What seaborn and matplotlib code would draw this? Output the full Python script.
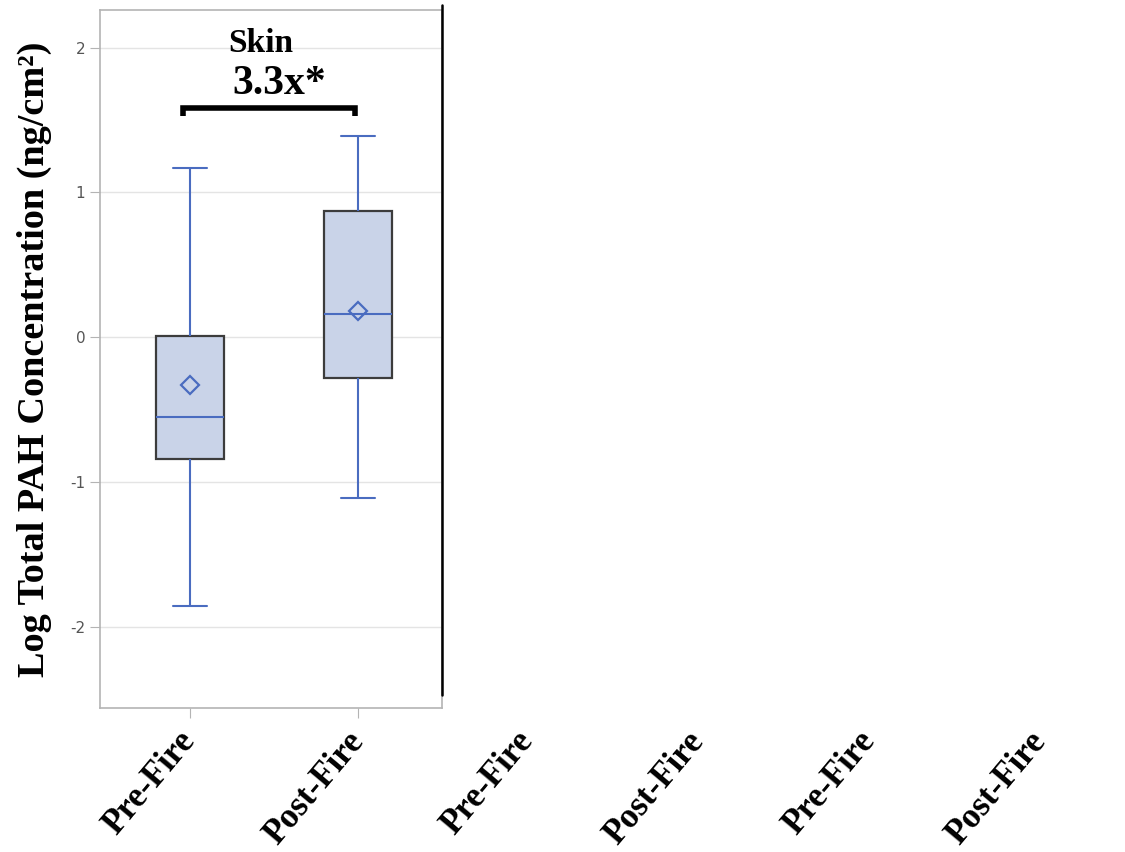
import pandas as pd
import matplotlib.pyplot as plt
import matplotlib.lines as mlines
import seaborn as sns

# valores (log da concentracao total de PAH na pele)
groups = ['Pre-Fire', 'Post-Fire']
whisker_low = [-1.855, -1.11]
q1 = [-0.84, -0.28]
median = [-0.55, 0.16]
q3 = [0.01, 0.87]
whisker_high = [1.17, 1.39]
means = [-0.33, 0.18]

panel_labels = ['Pre-Fire', 'Post-Fire']
y_ticks = [-2, -1, 0, 1, 2]

# tabela longa com os cinco numeros de cada grupo
rows = []
for i, g in enumerate(groups):
    for v in [whisker_low[i], q1[i], median[i], q3[i], whisker_high[i]]:
        rows.append({'group': g, 'value': v})
df = pd.DataFrame(rows)

sns.set_style('white')
plt.rcParams['axes.unicode_minus'] = False
plt.rcParams['text.color'] = 'black'
plt.rcParams['axes.labelcolor'] = 'black'

blue = '#4a6cc0'
fill = '#c9d3e8'
edge = '#3c3c3c'
serif = ['Liberation Serif', 'DejaVu Serif']

fig = plt.figure(figsize=(11.25, 8.52), dpi=100)
W, H = 1125, 852
ax = fig.add_axes([100 / W, 1 - 708 / H, 342 / W, 698 / H])

sns.boxplot(data=df, x='group', y='value', order=groups, whis=(0, 100),
            width=0.4, color=fill, linewidth=1.5, ax=ax,
            boxprops=dict(facecolor=fill, edgecolor=edge, linewidth=1.6),
            whiskerprops=dict(color=blue, linewidth=1.5),
            capprops=dict(color=blue, linewidth=1.5),
            medianprops=dict(color=blue, linewidth=1.5),
            showfliers=False)

sns.pointplot(x=groups, y=means, order=groups, linestyle='none', marker='D',
              markersize=9, markerfacecolor='none', markeredgecolor=blue,
              markeredgewidth=1.6, color=blue, errorbar=None, ax=ax)

ax.set_xlim(-0.536, 1.5)
ax.set_ylim(-2.56, 2.26)
ax.set_yticks(y_ticks)
ax.set_yticklabels([str(t) for t in y_ticks], fontsize=11, color='#555555')
ax.grid(axis='y', color='#e4e4e4', linewidth=1)
ax.set_axisbelow(True)
for s in ax.spines.values():
    s.set_color('#b4b4b4')
    s.set_linewidth(1.2)
ax.tick_params(axis='both', length=7, color='#b4b4b4', direction='out', left=True, bottom=True)
ax.tick_params(axis='x', pad=13)
ax.set_xlabel('')
ax.set_ylabel('Log Total PAH Concentration (ng/cm²)', family=serif,
              fontweight='bold', fontsize=27.5, color='black')
ax.yaxis.set_label_coords(-0.14, 0.5)
ax.set_xticks([0, 1])
ax.set_xticklabels(panel_labels, rotation=50, ha='right', va='center',
                   rotation_mode='anchor', family=serif, fontweight='bold',
                   fontsize=25, color='black')

# titulo e colchete de significancia
ax.text(0.42, 2.03, 'Skin', family=serif, fontweight='bold', fontsize=24,
        ha='center', va='center', color='black')
ax.text(0.53, 1.75, '3.3x*', family=serif, fontweight='bold', fontsize=30,
        ha='center', va='center', color='black')
ax.plot([-0.04, -0.04, 0.98, 0.98], [1.53, 1.58, 1.58, 1.53], color='black',
        linewidth=4, solid_joinstyle='miter', solid_capstyle='butt')

# paineis vazios com os rotulos restantes
for k in range(2):
    a = fig.add_axes([(442 + 342 * k) / W, 1 - 708 / H, 342 / W, 698 / H])
    a.set_xlim(-0.5, 1.5)
    a.set_frame_on(False)
    a.set_yticks([])
    a.set_xticks([0, 1])
    a.tick_params(axis='x', length=7, color='white', pad=13)
    a.set_xticklabels(panel_labels, rotation=50, ha='right', va='center',
                      rotation_mode='anchor', family=serif, fontweight='bold',
                      fontsize=25, color='black')

fig.add_artist(mlines.Line2D([442 / W, 442 / W], [1 - 5 / H, 1 - 695 / H],
                             color='black', linewidth=1.8))

fig.savefig('out.png', dpi=100)
